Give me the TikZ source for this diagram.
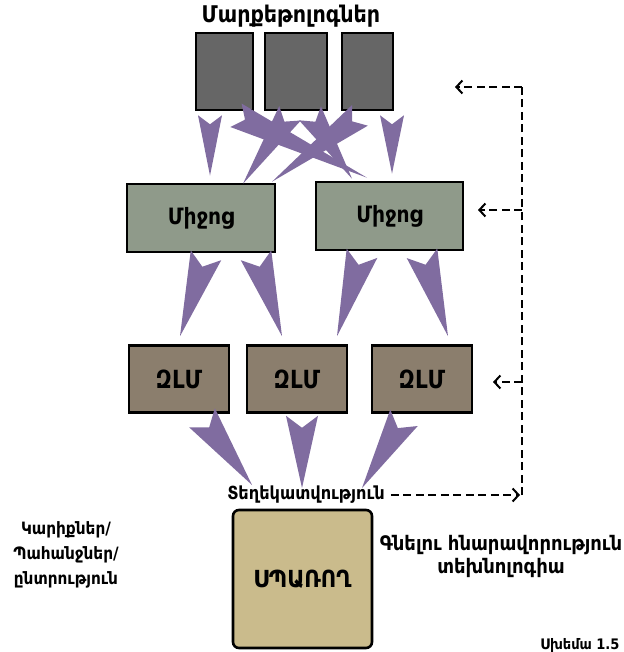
\documentclass[tikz,border=0pt]{standalone}
\usepackage{fontspec}
\setmainfont{DejaVu Sans Condensed}
\usetikzlibrary{calc,arrows.meta}

\definecolor{mktgray}{RGB}{102,102,102}
\definecolor{mediagreen}{RGB}{143,154,138}
\definecolor{zlmbrown}{RGB}{139,126,109}
\definecolor{consumertan}{RGB}{202,187,140}
\definecolor{flowpurple}{RGB}{128,108,160}

% a barbed, tapering flow arrow: back centre, tip, half width, notch depth
\newcommand\flowspear[4]{%
  \fill[flowpurple] ($(#1)!#3!90:(#2)$) -- (#2) -- ($(#1)!#3!-90:(#2)$)
    -- ($(#1)!#4!(#2)$) -- cycle;}

\tikzset{
  box/.style={draw=black, line width=2.6pt, inner sep=0pt},
  mkt/.style={box, fill=mktgray, minimum height=77pt},
  media/.style={box, fill=mediagreen, minimum width=148pt, minimum height=68pt,
    font=\bfseries\fontsize{22.5}{24}\selectfont},
  zlm/.style={box, fill=zlmbrown, minimum width=100pt, minimum height=67pt,
    font=\bfseries\fontsize{25}{26}\selectfont},
  consumer/.style={box, fill=consumertan, rounded corners=6pt,
    minimum width=139pt, minimum height=138pt, font=\bfseries\fontsize{23.5}{25}\selectfont},
  label/.style={inner sep=0pt, align=center},
  fb/.style={draw=black, line width=2pt, dash pattern=on 8pt off 4.5pt},
  fbarrow/.style={fb, -{Straight Barb[length=6pt,width=13pt,line width=2pt]}},
}

\begin{document}
\begin{tikzpicture}[x=1pt, y=-1pt]
\useasboundingbox (0,0) rectangle (623,652);

% marketers
\node[label, font=\bfseries\fontsize{23}{24}\selectfont] (title) at (291,16) {Մարքեթոլոգներ};
\node[mkt, minimum width=57pt] (m1) at (224.5,71.5) {};
\node[mkt, minimum width=62pt] (m2) at (296,71.5) {};
\node[mkt, minimum width=51pt] (m3) at (367.5,71.5) {};

% media
\node[media] (c1) at (201,218) {Միջոց};
\node[media, minimum width=147pt] (c2) at (389.5,216) {Միջոց};

% mass media outlets
\node[zlm] (z1) at (179,379) {ԶԼՄ};
\node[zlm] (z2) at (297,379) {ԶԼՄ};
\node[zlm] (z3) at (422,379) {ԶԼՄ};

% information and consumer
\node[label, font=\bfseries\fontsize{18}{20}\selectfont] (info) at (306,495) {Տեղեկատվություն};
\node[consumer] (cons) at (302.5,579) {ՍՊԱՌՈՂ};

\node[label, font=\bfseries\fontsize{17}{25}\selectfont] (needs) at (66,555) {Կարիքներ/\\Պահանջներ/\\ընտրություն};
\node[label, font=\bfseries\fontsize{20}{23}\selectfont] (buy) at (501,556) {Գնելու հնարավորություն\\տեխնոլոգիա};
\node[label, font=\bfseries\fontsize{14.5}{15}\selectfont] (fig) at (580,645) {Սխեմա 1.5};

% arrow ends: marketers -> media
\coordinate (s1) at ($(m1.south)+(-14.5,4)$);  \coordinate (t1) at ($(c1.north)+(9,-7)$);
\coordinate (s2) at ($(m3.south)+(24.5,4)$);   \coordinate (t2) at ($(c2.north)+(2.5,-7)$);
\coordinate (sA) at ($(m1.south)+(11.5,4)$);   \coordinate (tA) at ($(c2.north)+(-22.5,-3)$);
\coordinate (sB) at ($(m2.south)+(-6,2)$);     \coordinate (tB) at ($(c1.north)+(42,1)$);
\coordinate (sC) at ($(m2.south)+(14,2)$);     \coordinate (tC) at ($(c2.north)+(-37.5,-2)$);
\coordinate (sD) at ($(m3.south)+(-7.5,4)$);   \coordinate (tD) at ($(c1.north)+(71,-1)$);
\flowspear{s1}{t1}{12pt}{9pt}
\flowspear{s2}{t2}{12pt}{9pt}
\flowspear{sA}{tA}{13pt}{10pt}
\flowspear{sB}{tB}{13pt}{10pt}
\flowspear{sC}{tC}{13pt}{10pt}
\flowspear{sD}{tD}{13pt}{10pt}

% media -> mass media
\coordinate (u1) at ($(c1.south)+(5,2)$);   \coordinate (v1) at ($(z1.north)+(1,-8)$);
\coordinate (u2) at ($(c1.south)+(55,2)$);  \coordinate (v2) at ($(z2.north)+(-15,-8)$);
\coordinate (u3) at ($(c2.south)+(-27.5,2)$); \coordinate (v3) at ($(z2.north)+(40,-8)$);
\coordinate (u4) at ($(c2.south)+(32.5,2)$);  \coordinate (v4) at ($(z3.north)+(26,-8)$);
\flowspear{u1}{v1}{16pt}{12pt}
\flowspear{u2}{v2}{16pt}{12pt}
\flowspear{u3}{v3}{16pt}{12pt}
\flowspear{u4}{v4}{16pt}{12pt}

% mass media -> information
\coordinate (w1) at ($(z1.south)+(23,4)$);   \coordinate (i1) at ($(info.north)+(-54,-1)$);
\coordinate (w2) at ($(z2.south)+(5,2)$);    \coordinate (i2) at ($(info.north)+(-4,2)$);
\coordinate (w3) at ($(z3.south)+(-18,4)$);  \coordinate (i3) at ($(info.north)+(56,2)$);
\flowspear{w1}{i1}{16pt}{12pt}
\flowspear{w2}{i2}{16pt}{12pt}
\flowspear{w3}{i3}{16pt}{12pt}

% feedback loop
\coordinate (fTop) at (522,87);
\coordinate (fMid) at (522,210);
\coordinate (fLow) at (522,382);
\coordinate (fBot) at (522,495);
\coordinate (gTop) at (455,87);
\coordinate (gMid) at (478,210);
\coordinate (gLow) at (493,382);
\coordinate (gBot) at (520,495);
\draw[fb] (fBot) -- (fTop);
\draw[fbarrow] (fTop) -- (gTop);
\draw[fbarrow] (fMid) -- (gMid);
\draw[fbarrow] (fLow) -- (gLow);
\draw[fbarrow] ([xshift=6pt]info.east) -- (gBot);
\end{tikzpicture}
\end{document}
